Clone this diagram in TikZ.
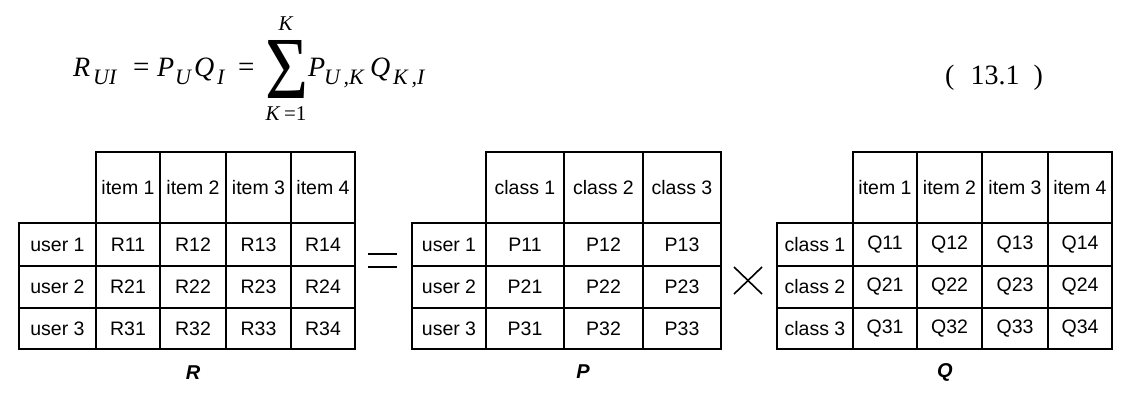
\documentclass[tikz,border=0pt]{standalone}
\usepackage{fontspec}
\usepackage{graphicx}
\setmainfont{Liberation Serif}
\newfontfamily\tabfont{Liberation Sans}
\begin{document}
\begin{tikzpicture}[x=1pt,y=-1pt,
  cell/.style={draw, line width=1.4pt, inner sep=0pt, font=\tabfont\fontsize{19.5}{22}\selectfont},
  eqm/.style={inner sep=0pt, anchor=base west, font=\fontsize{28}{30}\selectfont\itshape},
  eqo/.style={inner sep=0pt, anchor=base west, font=\fontsize{29}{30}\selectfont},
  eqs/.style={inner sep=0pt, anchor=base west, font=\fontsize{22}{24}\selectfont\itshape},
  lim/.style={inner sep=0pt, font=\fontsize{21}{21}\selectfont},
  lbl/.style={inner sep=0pt, font=\tabfont\bfseries\itshape\fontsize{20}{22}\selectfont},
  op/.style={line width=1.6pt}]
\useasboundingbox (0,0) rectangle (1134,412);

% ---------------- equation ----------------
\node[eqm] (R) at (73,76) {R};
\node[eqs] (sUI) at (93,84) {UI};
\node[eqo] (eq1) at (133,76) {=};
\node[eqm] (P) at (157,76) {P};
\node[eqs] (sU) at (175,84) {U};
\node[eqm] (Q) at (194,76) {Q};
\node[eqs] (sI) at (217,84) {I};
\node[eqo] (eq2) at (238,76) {=};
\node[inner sep=0pt] (sum) at (286.5,69) {\resizebox{43pt}{58pt}{Σ}};
\node[lim] (top) at (286,24) {\textit{K}};
\node[lim] (bot) at (286,114) {\textit{K}\,=1};
\node[eqm] (P2) at (308,76) {P};
\node[eqs] (sUK) at (324,84) {U\,,K};
\node[eqm] (Q2) at (370,76) {Q};
\node[eqs] (sKI) at (393,84) {K\,,I};
\node[inner sep=0pt, anchor=base west, font=\fontsize{28}{30}\selectfont] (eqno) at (945,84) {(\hspace{16pt}13.1\hspace{14pt})};

\def\Ys{{152,223,266,308,349}}

% ---------------- R table ----------------
\def\RX{{19,96,160,226,291,355}}
\foreach \c in {1,...,4}{
  \pgfmathsetmacro\xa{\RX[\c]}\pgfmathsetmacro\xb{\RX[\c+1]}
  \node[cell, minimum width={\xb-\xa}, minimum height=71] (R-h\c) at ({(\xa+\xb)/2},187.5) {item \c};
}
\foreach \r in {1,2,3}{
  \pgfmathsetmacro\ya{\Ys[\r]}\pgfmathsetmacro\yb{\Ys[\r+1]}
  \node[cell, minimum width=77, minimum height={\yb-\ya}] (R-u\r) at (57.5,{(\ya+\yb)/2}) {user \r};
  \foreach \c in {1,...,4}{
    \pgfmathsetmacro\xa{\RX[\c]}\pgfmathsetmacro\xb{\RX[\c+1]}
    \node[cell, minimum width={\xb-\xa}, minimum height={\yb-\ya}] (R-\r\c) at ({(\xa+\xb)/2},{(\ya+\yb)/2}) {R\r\c};
  }
}
\node[lbl] (Rlbl) at (193,373) {R};

% ---------------- P table ----------------
\def\PX{{412,486,564,643,721}}
\foreach \c in {1,2,3}{
  \pgfmathsetmacro\xa{\PX[\c]}\pgfmathsetmacro\xb{\PX[\c+1]}
  \node[cell, minimum width={\xb-\xa}, minimum height=71] (P-h\c) at ({(\xa+\xb)/2},187.5) {class \c};
}
\foreach \r in {1,2,3}{
  \pgfmathsetmacro\ya{\Ys[\r]}\pgfmathsetmacro\yb{\Ys[\r+1]}
  \node[cell, minimum width=74, minimum height={\yb-\ya}] (P-u\r) at (449,{(\ya+\yb)/2}) {user \r};
  \foreach \c in {1,2,3}{
    \pgfmathsetmacro\xa{\PX[\c]}\pgfmathsetmacro\xb{\PX[\c+1]}
    \node[cell, minimum width={\xb-\xa}, minimum height={\yb-\ya}] (P-\r\c) at ({(\xa+\xb)/2},{(\ya+\yb)/2}) {P\r\c};
  }
}
\node[lbl] (Plbl) at (583,372) {P};

% ---------------- Q table ----------------
\def\QX{{777,853,917,982,1048,1112}}
\foreach \c in {1,...,4}{
  \pgfmathsetmacro\xa{\QX[\c]}\pgfmathsetmacro\xb{\QX[\c+1]}
  \node[cell, minimum width={\xb-\xa}, minimum height=71] (Q-h\c) at ({(\xa+\xb)/2},187.5) {item \c};
}
\foreach \r in {1,2,3}{
  \pgfmathsetmacro\ya{\Ys[\r]}\pgfmathsetmacro\yb{\Ys[\r+1]}
  \node[cell, minimum width=76, minimum height={\yb-\ya}] (Q-u\r) at (815,{(\ya+\yb)/2}) {class \r};
  \foreach \c in {1,...,4}{
    \pgfmathsetmacro\xa{\QX[\c]}\pgfmathsetmacro\xb{\QX[\c+1]}
    \node[cell, minimum width={\xb-\xa}, minimum height={\yb-\ya}] (Q-\r\c) at ({(\xa+\xb)/2},{(\ya+\yb)/2}) {Q\r\c};
  }
}
\node[lbl] (Qlbl) at (945,372) {Q};

% ---------------- operators ----------------
\draw[op] (368,254) -- (397,254);
\draw[op] (368,267) -- (397,267);
\draw[op] (734,267) -- (762,294);
\draw[op] (734,294) -- (762,267);
\end{tikzpicture}
\end{document}
